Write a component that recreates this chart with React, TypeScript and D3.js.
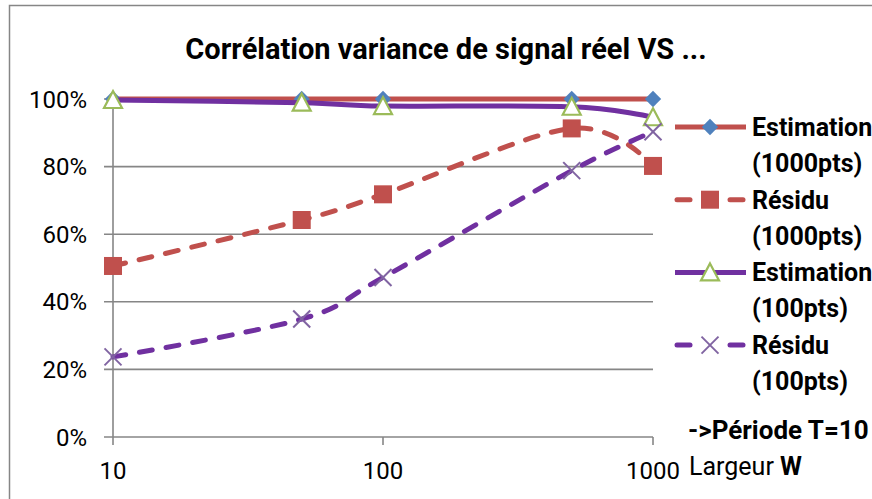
import React from "react";
import * as d3 from "d3";

const widths = [10, 50, 100, 500, 1000];
const estimation1000 = [1.0, 1.0, 1.0, 1.0, 1.0];
const residu1000 = [0.506, 0.642, 0.718, 0.913, 0.802];
const estimation100 = [0.997, 0.989, 0.979, 0.977, 0.946];
const residu100 = [0.237, 0.349, 0.472, 0.788, 0.903];
const yTicks = [0, 0.2, 0.4, 0.6, 0.8, 1.0];
const xTicks = [10, 100, 1000];
const legendLines = [
  ["Estimation", "(1000pts)"],
  ["Résidu", "(1000pts)"],
  ["Estimation", "(100pts)"],
  ["Résidu", "(100pts)"],
];
const title = "Corrélation variance de signal réel VS ...";
const note = "->Période T=10";
const axisTitle = ["Largeur ", "W"];

const RED = "#C0504D";
const BLUE = "#4F81BD";
const GREEN = "#9BBB59";
const PURPLE = "#7030A0";
const XPURPLE = "#8064A2";
const GRID = "#868686";
const FONT = "Roboto, 'Open Sans', sans-serif";

type Marker = "diamond" | "square" | "triangle" | "x";

function MarkerShape({ type, x, y }: { type: Marker; x: number; y: number }) {
  if (type === "diamond") {
    const s = d3.symbol(d3.symbolDiamond2, 170)();
    return <path d={s || ""} transform={`translate(${x},${y})`} fill={BLUE} />;
  }
  if (type === "square") {
    const h = 9;
    return <rect x={x - h} y={y - h} width={2 * h} height={2 * h} fill={RED} />;
  }
  if (type === "triangle") {
    const h = 9;
    const d = `M${x},${y - h}L${x + h},${y + h - 1}L${x - h},${y + h - 1}Z`;
    return <path d={d} fill="#fff" stroke={GREEN} strokeWidth={2.2} strokeLinejoin="miter" />;
  }
  const h = 8.5;
  return (
    <g stroke={XPURPLE} strokeWidth={2}>
      <line x1={x - h} y1={y - h} x2={x + h} y2={y + h} />
      <line x1={x - h} y1={y + h} x2={x + h} y2={y - h} />
    </g>
  );
}

export default function App() {
  const W = 872;
  const H = 499;
  const x = d3.scaleLog().domain([10, 1000]).range([113, 653]);
  const y = d3.scaleLinear().domain([0, 1]).range([437, 99]);
  const line = d3
    .line<[number, number]>()
    .x((d) => x(d[0]))
    .y((d) => y(d[1]))
    .curve(d3.curveCardinal.tension(0));

  const series = [
    { values: estimation1000, color: RED, dash: undefined as string | undefined, marker: "diamond" as Marker },
    { values: residu1000, color: RED, dash: "13 14", marker: "square" as Marker },
    { values: estimation100, color: PURPLE, dash: undefined as string | undefined, marker: "triangle" as Marker },
    { values: residu100, color: PURPLE, dash: "13 14", marker: "x" as Marker },
  ];

  const pct = d3.format(".0%");
  const LW = 5;

  return (
    <svg
      width={W}
      height={H}
      style={{ position: "absolute", left: 0, top: 0, background: "#fff" }}
      fontFamily={FONT}
    >
      <rect x={0} y={0} width={W} height={H} fill="#fff" />
      {/* chart border */}
      <path d={`M9.5,${H}V5.5H${W}`} fill="none" stroke={GRID} strokeWidth={1.5} />

      {/* title */}
      <text x={446} y={59} textAnchor="middle" fontWeight="bold" fontSize={29} fill="#000">
        {title}
      </text>

      {/* gridlines & y ticks */}
      {yTicks.map((t) => (
        <g key={t}>
          <line x1={104} x2={x(1000)} y1={y(t)} y2={y(t)} stroke={GRID} strokeWidth={1.6} />
          <text x={87} y={y(t) + 8.5} textAnchor="end" fontSize={24} fill="#000">
            {pct(t)}
          </text>
        </g>
      ))}
      {/* y axis */}
      <line x1={x(10)} x2={x(10)} y1={y(1)} y2={y(0)} stroke={GRID} strokeWidth={1.6} />
      {/* x ticks */}
      {xTicks.map((t) => (
        <g key={t}>
          <line x1={x(t)} x2={x(t)} y1={y(0)} y2={y(0) + 8} stroke={GRID} strokeWidth={1.6} />
          <text x={x(t)} y={479} textAnchor="middle" fontSize={24} fill="#000">
            {t}
          </text>
        </g>
      ))}

      {/* series */}
      {series.map((s, i) => {
        const pts = widths.map((w, j) => [w, s.values[j]] as [number, number]);
        return (
          <g key={i}>
            <path
              d={line(pts) || ""}
              fill="none"
              stroke={s.color}
              strokeWidth={LW}
              strokeDasharray={s.dash}
              strokeLinecap={s.dash ? "round" : "butt"}
            />
            {pts.map((p, j) => (
              <MarkerShape key={j} type={s.marker} x={x(p[0])} y={y(p[1])} />
            ))}
          </g>
        );
      })}

      {/* legend */}
      {series.map((s, i) => {
        const cy = 127 + i * 72.7;
        return (
          <g key={i}>
            {s.dash ? (
              <g stroke={s.color} strokeWidth={LW} strokeLinecap="round">
                <line x1={677} x2={690} y1={cy} y2={cy} />
                <line x1={730} x2={743} y1={cy} y2={cy} />
              </g>
            ) : (
              <line x1={675} x2={746} y1={cy} y2={cy} stroke={s.color} strokeWidth={LW} />
            )}
            <MarkerShape type={s.marker} x={710} y={cy} />
            <text x={752} y={cy + 9} fontWeight="bold" fontSize={25} fill="#000">
              {legendLines[i][0]}
            </text>
            <text x={752} y={cy + 45} fontWeight="bold" fontSize={25} fill="#000">
              {legendLines[i][1]}
            </text>
          </g>
        );
      })}
      <text x={688} y={439} fontWeight="bold" fontSize={26} fill="#000">
        {note}
      </text>
      <text x={689} y={475} fontSize={25} fill="#000">
        {axisTitle[0]}
        <tspan fontWeight="bold">{axisTitle[1]}</tspan>
      </text>
    </svg>
  );
}
